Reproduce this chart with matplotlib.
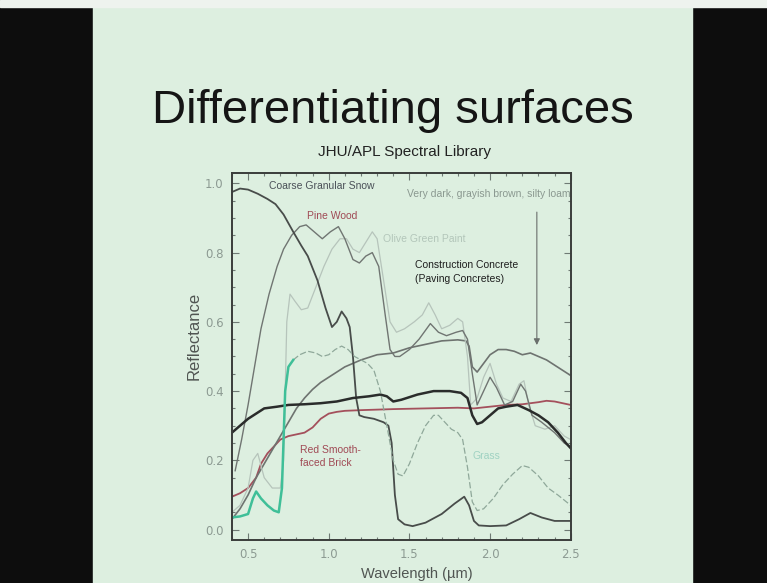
import matplotlib
matplotlib.use("Agg")
import matplotlib.pyplot as plt
from matplotlib.patches import Rectangle
from matplotlib.ticker import MultipleLocator, FormatStrFormatter

# spectra (wavelength in um, reflectance 0..1)
snow_wl = [0.40, 0.45, 0.50, 0.56, 0.62, 0.67, 0.72, 0.78, 0.83, 0.87, 0.93, 0.98, 1.02, 1.05,
           1.08, 1.11, 1.13, 1.15, 1.17, 1.19, 1.22, 1.28, 1.34, 1.37, 1.39, 1.41, 1.43, 1.47,
           1.52, 1.60, 1.70, 1.78, 1.84, 1.87, 1.90, 1.93, 2.00, 2.10, 2.18, 2.25, 2.32, 2.40, 2.50]
snow_r = [0.975, 0.985, 0.982, 0.97, 0.955, 0.94, 0.91, 0.86, 0.82, 0.79, 0.72, 0.64, 0.585, 0.60,
          0.63, 0.61, 0.585, 0.50, 0.38, 0.33, 0.325, 0.32, 0.31, 0.30, 0.25, 0.10, 0.03, 0.015,
          0.01, 0.02, 0.045, 0.075, 0.095, 0.07, 0.025, 0.012, 0.01, 0.012, 0.03, 0.048, 0.035, 0.025, 0.025]

pine_wl = [0.42, 0.46, 0.50, 0.54, 0.58, 0.63, 0.68, 0.72, 0.77, 0.82, 0.86, 0.91, 0.96, 1.01,
           1.06, 1.10, 1.15, 1.19, 1.23, 1.27, 1.31, 1.35, 1.38, 1.41, 1.44, 1.50, 1.56, 1.63,
           1.68, 1.73, 1.79, 1.83, 1.86, 1.89, 1.92, 1.96, 2.00, 2.04, 2.09, 2.14, 2.19, 2.22,
           2.26, 2.32, 2.40, 2.46, 2.50]
pine_r = [0.17, 0.26, 0.36, 0.47, 0.58, 0.68, 0.76, 0.81, 0.85, 0.875, 0.88, 0.86, 0.84, 0.86,
          0.875, 0.84, 0.78, 0.77, 0.79, 0.80, 0.76, 0.62, 0.52, 0.50, 0.50, 0.52, 0.55, 0.595,
          0.57, 0.56, 0.57, 0.575, 0.55, 0.45, 0.36, 0.40, 0.44, 0.41, 0.36, 0.37, 0.42, 0.40,
          0.33, 0.31, 0.28, 0.25, 0.24]

olive_wl = [0.40, 0.45, 0.50, 0.53, 0.56, 0.60, 0.65, 0.70, 0.72, 0.74, 0.76, 0.79, 0.83, 0.87,
            0.92, 0.97, 1.02, 1.07, 1.11, 1.15, 1.19, 1.23, 1.27, 1.30, 1.34, 1.38, 1.42, 1.47,
            1.53, 1.58, 1.62, 1.66, 1.70, 1.75, 1.80, 1.83, 1.86, 1.88, 1.92, 1.96, 2.00, 2.04,
            2.08, 2.13, 2.18, 2.21, 2.24, 2.28, 2.34, 2.40, 2.46, 2.50]
olive_r = [0.05, 0.07, 0.12, 0.20, 0.22, 0.15, 0.12, 0.12, 0.20, 0.60, 0.68, 0.66, 0.635, 0.64,
           0.70, 0.76, 0.81, 0.84, 0.84, 0.81, 0.80, 0.83, 0.86, 0.84, 0.72, 0.60, 0.57, 0.58,
           0.60, 0.62, 0.655, 0.62, 0.58, 0.59, 0.61, 0.60, 0.50, 0.36, 0.38, 0.44, 0.48, 0.42,
           0.38, 0.37, 0.42, 0.43, 0.36, 0.30, 0.29, 0.30, 0.27, 0.26]

conc_wl = [0.40, 0.45, 0.50, 0.55, 0.60, 0.68, 0.75, 0.85, 0.95, 1.05, 1.15, 1.25, 1.32, 1.36,
           1.40, 1.45, 1.55, 1.65, 1.75, 1.82, 1.86, 1.89, 1.92, 1.95, 2.00, 2.05, 2.10, 2.17,
           2.24, 2.30, 2.36, 2.42, 2.47, 2.50]
conc_r = [0.28, 0.30, 0.32, 0.335, 0.35, 0.355, 0.36, 0.362, 0.365, 0.37, 0.38, 0.385, 0.39, 0.385,
          0.37, 0.375, 0.39, 0.40, 0.40, 0.395, 0.38, 0.33, 0.305, 0.31, 0.33, 0.35, 0.355, 0.36,
          0.345, 0.33, 0.31, 0.28, 0.25, 0.235]

loam_wl = [0.40, 0.45, 0.50, 0.55, 0.60, 0.65, 0.70, 0.75, 0.80, 0.85, 0.90, 0.95, 1.00, 1.05,
           1.10, 1.20, 1.30, 1.40, 1.50, 1.60, 1.70, 1.80, 1.85, 1.87, 1.89, 1.92, 1.96, 2.00,
           2.05, 2.10, 2.15, 2.20, 2.25, 2.30, 2.35, 2.40, 2.45, 2.50]
loam_r = [0.03, 0.06, 0.10, 0.15, 0.19, 0.23, 0.27, 0.31, 0.35, 0.38, 0.405, 0.425, 0.44, 0.455,
          0.47, 0.49, 0.505, 0.51, 0.525, 0.535, 0.545, 0.548, 0.545, 0.53, 0.47, 0.455, 0.48, 0.505,
          0.52, 0.52, 0.515, 0.505, 0.51, 0.50, 0.49, 0.475, 0.46, 0.445]

brick_wl = [0.40, 0.45, 0.50, 0.55, 0.58, 0.62, 0.66, 0.70, 0.75, 0.80, 0.85, 0.90, 0.95, 1.00,
            1.05, 1.10, 1.20, 1.40, 1.60, 1.80, 1.90, 2.00, 2.10, 2.20, 2.30, 2.35, 2.40, 2.45, 2.50]
brick_r = [0.095, 0.105, 0.12, 0.15, 0.19, 0.22, 0.24, 0.26, 0.27, 0.275, 0.28, 0.295, 0.32, 0.335,
           0.34, 0.343, 0.345, 0.348, 0.35, 0.352, 0.35, 0.355, 0.36, 0.362, 0.368, 0.372, 0.37, 0.365, 0.36]

grass_wl = [0.40, 0.45, 0.50, 0.53, 0.55, 0.58, 0.62, 0.66, 0.69, 0.71, 0.73, 0.75, 0.78, 0.82,
            0.87, 0.92, 0.96, 1.00, 1.04, 1.08, 1.12, 1.16, 1.20, 1.24, 1.28, 1.32, 1.36, 1.40,
            1.43, 1.46, 1.50, 1.55, 1.60, 1.65, 1.68, 1.72, 1.76, 1.80, 1.83, 1.86, 1.89, 1.92,
            1.96, 2.02, 2.08, 2.14, 2.20, 2.24, 2.30, 2.36, 2.42, 2.50]
grass_r = [0.035, 0.038, 0.045, 0.09, 0.11, 0.09, 0.07, 0.055, 0.05, 0.12, 0.40, 0.47, 0.49, 0.505,
           0.515, 0.51, 0.50, 0.505, 0.52, 0.53, 0.52, 0.50, 0.49, 0.48, 0.46, 0.40, 0.30, 0.20,
           0.16, 0.155, 0.19, 0.25, 0.30, 0.33, 0.33, 0.31, 0.29, 0.28, 0.26, 0.18, 0.08, 0.055,
           0.06, 0.09, 0.13, 0.16, 0.185, 0.18, 0.155, 0.12, 0.10, 0.07]
grass_vis_end = 0.78  # teal part of the grass curve

slide = '#ddefe0'
fig = plt.figure(figsize=(7.67, 5.83), dpi=100, facecolor='#0d0d0d')

# projected slide + washed out strip at the top of the photo
fig.patches.append(Rectangle((93 / 767, 0), (692 - 93) / 767, 1 - 7 / 583,
                             transform=fig.transFigure, color=slide, zorder=-10))
fig.patches.append(Rectangle((0, 1 - 7 / 583), 1, 7 / 583,
                             transform=fig.transFigure, color='#eef3ee', zorder=-10))

fig.text(393 / 767, 1 - 123 / 583, 'Differentiating surfaces', ha='center', va='baseline',
         fontsize=34, color='#151515', family='Liberation Sans')
fig.text(404 / 767, 1 - 152 / 583, 'JHU/APL Spectral Library', ha='center', va='center',
         fontsize=11, color='#222222', family='Liberation Sans')

ax = fig.add_axes([0.3024, 0.0738, 0.4417, 0.6295])
ax.set_facecolor(slide)

ax.plot(brick_wl, brick_r, color='#a4505c', lw=1.3)
ax.plot(loam_wl, loam_r, color='#6e7370', lw=1.2)
ax.plot(olive_wl, olive_r, color='#b6c4bb', lw=0.9)
ax.plot(pine_wl, pine_r, color='#707572', lw=1.0)
ax.plot(snow_wl, snow_r, color='#484c4a', lw=1.3)
ax.plot(conc_wl, conc_r, color='#2a2c2b', lw=1.8)
vis_x = [w for w in grass_wl if w <= grass_vis_end]
vis_y = grass_r[:len(vis_x)]
ax.plot(grass_wl[len(vis_x) - 1:], grass_r[len(vis_x) - 1:], color='#8fa89a', lw=0.9, ls=(0, (5, 2)))
ax.plot(vis_x, vis_y, color='#3fbf98', lw=1.8)

ax.annotate('', xy=(2.29, 0.525), xytext=(2.29, 0.925),
            arrowprops=dict(arrowstyle='-|>', color='#6a6f6c', lw=0.8, mutation_scale=9))

lab = dict(fontsize=7.5, family='Liberation Sans')
ax.text(0.958, 0.991, 'Coarse Granular Snow', ha='center', va='center', color='#4a5058', **lab)
ax.text(1.02, 0.905, 'Pine Wood', ha='center', va='center', color='#a04a55', **lab)
ax.text(1.335, 0.84, 'Olive Green Paint', ha='left', va='center', color='#b3c6ba', **lab)
ax.text(1.533, 0.745, 'Construction Concrete\n(Paving Concretes)', ha='left', va='center',
        color='#1e1e1e', linespacing=1.5, **lab)
ax.text(1.484, 0.968, 'Very dark, grayish brown, silty loam', ha='left', va='center',
        color='#8a9890', **lab)
ax.text(0.82, 0.21, 'Red Smooth-\nfaced Brick', ha='left', va='center', color='#a04a55',
        linespacing=1.4, **lab)
ax.text(1.89, 0.212, 'Grass', ha='left', va='center', color='#9fd2c2', **lab)

ax.set_xlim(0.4, 2.5)
ax.set_ylim(-0.03, 1.03)
ax.xaxis.set_major_locator(MultipleLocator(0.5))
ax.xaxis.set_minor_locator(MultipleLocator(0.1))
ax.yaxis.set_major_locator(MultipleLocator(0.2))
ax.yaxis.set_minor_locator(MultipleLocator(0.05))
ax.xaxis.set_major_formatter(FormatStrFormatter('%.1f'))
ax.yaxis.set_major_formatter(FormatStrFormatter('%.1f'))
ax.tick_params(which='both', direction='in', top=True, right=True, colors='#6f7a74',
               labelcolor='#8c9a92', labelsize=8.5, width=0.8)
ax.tick_params(which='major', length=5, pad=6)
ax.tick_params(which='minor', length=2.5)
for s in ax.spines.values():
    s.set_color('#3a3d3b')
    s.set_linewidth(1.4)

fig.text(194 / 767, 1 - 336 / 583, 'Reflectance', rotation=90, ha='center', va='center',
         fontsize=12, color='#505552', family='Liberation Sans')
fig.text(417 / 767, 1 - 574 / 583, 'Wavelength (\u00b5m)', ha='center', va='center',
         fontsize=10.5, color='#505552', family='Liberation Sans')

fig.savefig('out.png', dpi=100, facecolor=fig.get_facecolor())
